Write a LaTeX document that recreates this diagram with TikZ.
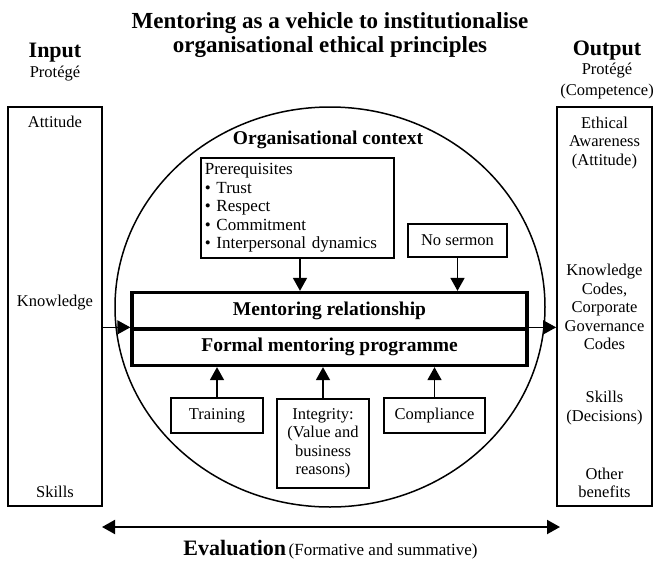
\documentclass[tikz,border=0pt]{standalone}
\usepackage{fontspec}
\setmainfont{Liberation Serif}
\usetikzlibrary{arrows.meta,positioning,shapes.geometric}

\begin{document}
\begin{tikzpicture}[
    x=1pt, y=-1pt,
    txt/.style={font=\fontsize{16.5}{18.5}\selectfont, align=center, inner sep=0pt},
    head/.style={font=\fontsize{22}{24}\selectfont\bfseries, inner sep=0pt},
    box/.style={draw, line width=1.7pt, font=\fontsize{16.5}{18.5}\selectfont, align=center, inner sep=3pt},
    sidebox/.style={draw, line width=1.7pt, minimum height=399pt, inner sep=0pt},
    bigbox/.style={draw, line width=3.3pt, minimum width=395pt, minimum height=36.5pt, inner sep=0pt, font=\fontsize{19.5}{22}\selectfont\bfseries},
    tip/.tip={Triangle[length=13pt,width=14pt]},
    arrow/.style={-tip, line width=1.7pt}
]
    \useasboundingbox (0,0) rectangle (656,560);

    % Title and column heads
    \node [inner sep=0pt, align=center, font=\fontsize{23}{24}\selectfont\bfseries] (title) at (330,35) {Mentoring as a vehicle to institutionalise\\organisational ethical principles};
    \node [head] (input) at (55,53) {Input};
    \node [txt] (inputsub) at (55,74) {Protégé};
    \node [head] (output) at (607,51) {Output};
    \node [txt, font=\fontsize{16.5}{21}\selectfont] (outputsub) at (607,81.5) {Protégé\\(Competence)};

    % Input and output columns
    \node [sidebox, minimum width=94pt] (inbox) at (55,306.5) {};
    \node [sidebox, minimum width=95pt] (outbox) at (604.5,306.5) {};
    \node [txt] (attitude) at (55,122) {Attitude};
    \node [txt] (knowledge) at (55,303) {Knowledge};
    \node [txt] (skills) at (55,492) {Skills};
    \node [txt] (awareness) at (604.5,143) {Ethical\\Awareness\\(Attitude)};
    \node [txt] (codes) at (604.5,307) {Knowledge\\Codes,\\Corporate\\Governance\\Codes};
    \node [txt] (decisions) at (604.5,408) {Skills\\(Decisions)};
    \node [txt] (benefits) at (604.5,483) {Other\\benefits};

    % Organisational context
    \node [draw, ellipse, line width=1.5pt, minimum width=430pt, minimum height=400pt] (context) at (330,307) {};
    \node [font=\fontsize{19.5}{22}\selectfont\bfseries, inner sep=0pt] (contexttitle) at (328,140) {Organisational context};
    \node [box, align=left, anchor=north west, minimum width=193pt, minimum height=100pt, text width=185pt, inner sep=4pt, font=\fontsize{17}{18.5}\selectfont] (prereq) at (200,157) {Prerequisites\\\textbullet\ Trust\\\textbullet\ Respect\\\textbullet\ Commitment\\\textbullet\ Interpersonal dynamics};
    \node [box, minimum width=99pt, minimum height=33pt] (sermon) at (457.5,240.5) {No sermon};

    % Mentoring programme
    \node [bigbox] (relation) at (329.5,310.75) {Mentoring relationship};
    \node [bigbox] (programme) at (329.5,347.25) {Formal mentoring programme};

    \node [box, minimum width=92pt, minimum height=35pt] (training) at (217,415.5) {Training};
    \node [box, anchor=north, minimum width=92pt, minimum height=89pt, inner sep=4pt] (integrity) at (323,398) {Integrity:\\(Value and\\business\\reasons)};
    \node [box, minimum width=101pt, minimum height=35pt] (compliance) at (434.5,415.5) {Compliance};

    \draw [arrow] (prereq.south -| 300,0) -- (relation.north -| 300,0);
    \draw [arrow] (sermon.south) -- (sermon.south |- relation.north);
    \draw [arrow] (training.north) -- (training.north |- programme.south);
    \draw [arrow] (integrity.north) -- (integrity.north |- programme.south);
    \draw [arrow] (compliance.north) -- (compliance.north |- programme.south);

    \draw [arrow, line width=1.3pt] (inbox.east |- programme.north) -- (programme.north west);
    \draw [arrow, line width=1.3pt] (programme.north east) -- (outbox.west |- programme.north);

    % Evaluation
    \coordinate (evalleft) at (102,527);
    \coordinate (evalright) at (560,527);
    \draw [tip-tip, line width=2pt] (evalleft) -- (evalright);
    \node [inner sep=0pt] (evaluation) at (330.5,550) {{\fontsize{22}{24}\selectfont\bfseries Evaluation} {\fontsize{17}{18.5}\selectfont(Formative and summative)}};

\end{tikzpicture}
\end{document}
